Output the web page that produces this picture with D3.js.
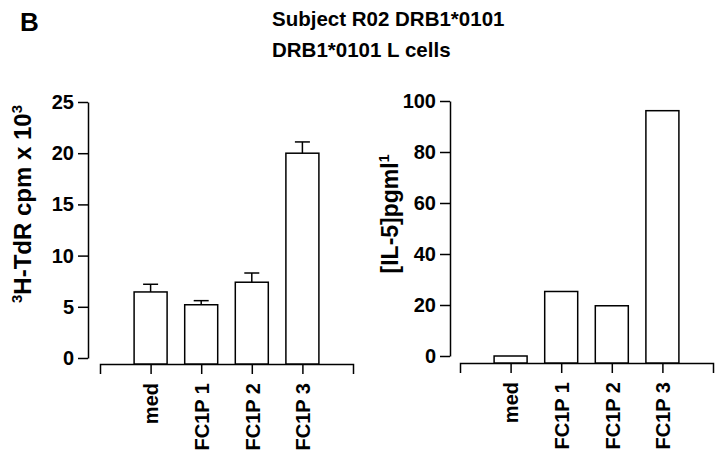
<!DOCTYPE html>
<html>
<head>
<meta charset="utf-8">
<script src="https://cdn.jsdelivr.net/npm/d3@7"></script>
<style>
  body { margin: 0; background: #fff; }
  svg { font-family: "Liberation Sans", Arial, sans-serif; font-weight: bold; }
  .axis path, .axis line { stroke: #000; stroke-width: 1.5px; }
  .axis text { font-size: 20px; font-weight: bold; fill: #000; }
</style>
</head>
<body>
<svg id="chart" width="720" height="452"></svg>
<script>
// data
const categories = ['med', 'FC1P 1', 'FC1P 2', 'FC1P 3'];
const cpmValues = [6.45, 5.2, 7.4, 20.0];     // 3H-TdR cpm x 10^3
const cpmErrors = [0.75, 0.4, 0.9, 1.1];
const il5Values = [0, 25.3, 19.7, 96.2];      // [IL-5] pg/ml
const cpmTicks = [0, 5, 10, 15, 20, 25];
const il5Ticks = [0, 20, 40, 60, 80, 100];

const svg = d3.select('#chart');

svg.append('text')
  .attr('x', 20).attr('y', 31)
  .style('font-size', '26px')
  .text('B');

svg.append('text')
  .attr('x', 272).attr('y', 26)
  .style('font-size', '20.5px')
  .text('Subject R02 DRB1*0101');

svg.append('text')
  .attr('x', 272).attr('y', 57)
  .style('font-size', '20.5px')
  .text('DRB1*0101 L cells');

function drawPanel(opts) {
  const { yAxisX, y0, yTop, xAxisY, xStart, xEnd, maxVal, ticks, values, errors } = opts;
  const g = svg.append('g');

  const x = d3.scalePoint().domain(categories).range([xStart, xEnd]).padding(1);
  const y = d3.scaleLinear().domain([0, maxVal]).range([y0, yTop]);

  // y axis
  g.append('g')
    .attr('class', 'axis')
    .attr('transform', `translate(${yAxisX},0)`)
    .call(d3.axisLeft(y).tickValues(ticks).tickSize(10).tickSizeOuter(0).tickPadding(4));

  // x axis, labels turned to read upwards
  const xa = g.append('g')
    .attr('class', 'axis')
    .attr('transform', `translate(0,${xAxisY})`)
    .call(d3.axisBottom(x).tickSize(10).tickSizeOuter(10));
  xa.selectAll('.tick text')
    .attr('transform', 'rotate(-90)')
    .attr('text-anchor', 'end')
    .attr('x', -19)
    .attr('y', 0)
    .attr('dy', '0.36em');

  const barW = 33;
  g.selectAll('rect.bar')
    .data(values)
    .join('rect')
    .attr('class', 'bar')
    .attr('x', (d, i) => x(categories[i]) - barW / 2)
    .attr('y', d => y(d))
    .attr('width', barW)
    .attr('height', d => xAxisY - y(d))
    .attr('fill', '#fff')
    .attr('stroke', '#000')
    .attr('stroke-width', 1.5);

  if (errors) {
    const capW = 15;
    const eb = g.selectAll('g.err')
      .data(values.map((v, i) => ({ v, e: errors[i], c: categories[i] })))
      .join('g')
      .attr('class', 'err');
    eb.append('line')
      .attr('x1', d => x(d.c)).attr('x2', d => x(d.c))
      .attr('y1', d => y(d.v)).attr('y2', d => y(d.v + d.e))
      .attr('stroke', '#000').attr('stroke-width', 1.5);
    eb.append('line')
      .attr('x1', d => x(d.c) - capW / 2).attr('x2', d => x(d.c) + capW / 2)
      .attr('y1', d => y(d.v + d.e)).attr('y2', d => y(d.v + d.e))
      .attr('stroke', '#000').attr('stroke-width', 1.5);
  }
  return g;
}

drawPanel({
  yAxisX: 88, y0: 358, yTop: 102, xAxisY: 364, xStart: 100, xEnd: 353,
  maxVal: 25, ticks: cpmTicks, values: cpmValues, errors: cpmErrors
});

drawPanel({
  yAxisX: 450, y0: 356, yTop: 101, xAxisY: 363, xStart: 460, xEnd: 713,
  maxVal: 100, ticks: il5Ticks, values: il5Values, errors: null
});

// y axis titles
const lt = svg.append('text')
  .attr('transform', 'translate(31,204) rotate(-90)')
  .attr('text-anchor', 'middle')
  .style('font-size', '24px');
lt.append('tspan').style('font-size', '15px').attr('dy', '-9').text('3');
lt.append('tspan').attr('dy', '9').text('H-TdR cpm x 10');
lt.append('tspan').style('font-size', '15px').attr('dy', '-9').text('3');

const rt = svg.append('text')
  .attr('transform', 'translate(398,214) rotate(-90)')
  .attr('text-anchor', 'middle')
  .style('font-size', '23px');
rt.append('tspan').text('[IL-5]pgml');
rt.append('tspan').style('font-size', '14px').attr('dy', '-9').text('1');
</script>
</body>
</html>
